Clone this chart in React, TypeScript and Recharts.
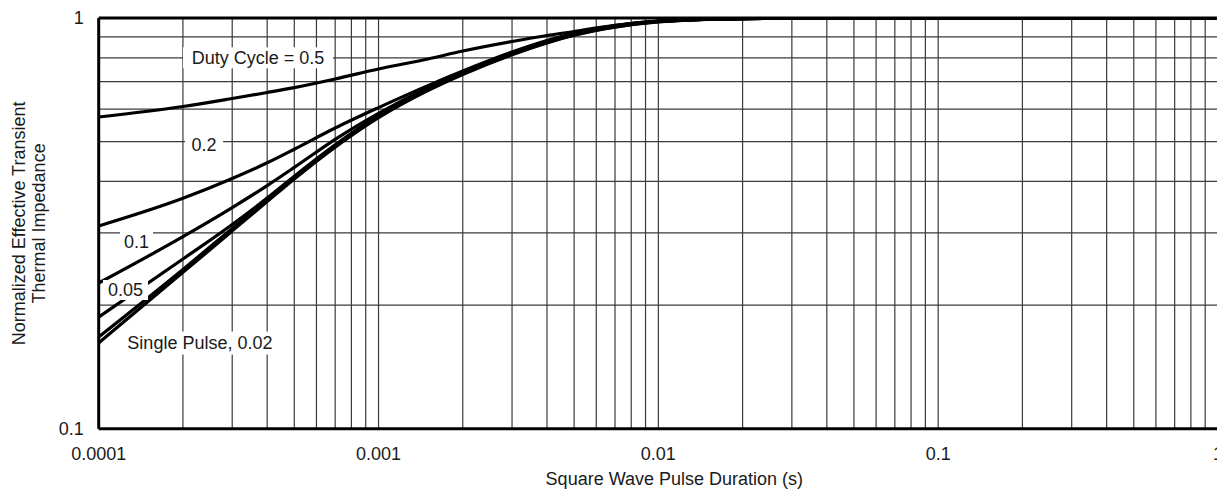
import React from 'react';
import { LineChart, Line, XAxis, YAxis, CartesianGrid, ReferenceLine, ReferenceDot } from 'recharts';

// ---- data ----
const X_VALUES = [0.0001, 0.0002, 0.0003, 0.0004, 0.0005, 0.0007, 0.001, 0.0015, 0.002, 0.003, 0.004, 0.005, 0.007, 0.01, 0.02, 0.05, 0.1, 0.2, 0.5, 1];
const DUTY_05 = [0.5741, 0.6089, 0.6369, 0.6586, 0.677, 0.7104, 0.7514, 0.7947, 0.8311, 0.8766, 0.9066, 0.9271, 0.9599, 0.9822, 0.997, 1, 1, 1, 1, 1];
const DUTY_02 = [0.3117, 0.364, 0.4068, 0.4442, 0.4793, 0.5398, 0.6052, 0.6846, 0.743, 0.8265, 0.8815, 0.9178, 0.9583, 0.9833, 0.997, 1, 1, 1, 1, 1];
const DUTY_01 = [0.2264, 0.2935, 0.3455, 0.3909, 0.4328, 0.5067, 0.5862, 0.677, 0.7388, 0.8237, 0.8791, 0.9158, 0.9567, 0.9822, 0.997, 1, 1, 1, 1, 1];
const DUTY_005 = [0.1871, 0.259, 0.3143, 0.3646, 0.412, 0.4913, 0.5783, 0.6713, 0.7339, 0.8191, 0.8746, 0.9117, 0.9535, 0.9806, 0.997, 1, 1, 1, 1, 1];
const DUTY_002 = [0.1673, 0.2442, 0.3073, 0.3606, 0.4083, 0.488, 0.5748, 0.6683, 0.731, 0.8164, 0.8722, 0.9096, 0.9519, 0.9795, 0.997, 1, 1, 1, 1, 1];
const SINGLE = [0.1618, 0.2404, 0.3032, 0.3573, 0.4056, 0.4848, 0.5719, 0.6657, 0.7286, 0.8136, 0.8697, 0.9076, 0.9503, 0.9784, 0.997, 1, 1, 1, 1, 1];

const SERIES_KEYS = ['d05', 'd02', 'd01', 'd005', 'd002', 'single'];
const SERIES_VALUES = [DUTY_05, DUTY_02, DUTY_01, DUTY_005, DUTY_002, SINGLE];

const X_MAJOR_TICKS = [0.0001, 0.001, 0.01, 0.1, 1];
const X_MAJOR_LABELS = ['0.0001', '0.001', '0.01', '0.1', '1'];
const Y_MAJOR_TICKS = [0.1, 1];
const Y_MAJOR_LABELS = ['0.1', '1'];
const MULTIPLIERS = [1, 2, 3, 4, 5, 6, 7, 8, 9];

const CURVE_LABELS = ['Duty Cycle = 0.5', '0.2', '0.1', '0.05', 'Single Pulse, 0.02'];
const CURVE_LABEL_X = [0.000371, 0.000238, 0.0001365, 0.0001247, 0.00023];
const CURVE_LABEL_Y = [0.8, 0.491, 0.2857, 0.2177, 0.1617];

const X_TITLE = 'Square Wave Pulse Duration (s)';
const Y_TITLE_LINES = ['Normalized Effective Transient', 'Thermal Impedance'];

// ---- derived tables ----
const chartData = X_VALUES.map((x, i) => {
  const row: any = { x };
  SERIES_KEYS.forEach((k, j) => { row[k] = SERIES_VALUES[j][i]; });
  return row;
});

const xTicks = X_MAJOR_TICKS.slice(0, -1)
  .flatMap((d) => MULTIPLIERS.map((m) => +(d * m).toPrecision(6)))
  .concat([X_MAJOR_TICKS[X_MAJOR_TICKS.length - 1]]);
const yTicks = MULTIPLIERS.map((m) => +(Y_MAJOR_TICKS[0] * m).toPrecision(6)).concat([Y_MAJOR_TICKS[1]]);

const FONT = '"Liberation Sans", Arial, Helvetica, sans-serif';
const TEXT_COLOR = '#1a1a1a';

const findMajor = (list: number[], v: number) => list.findIndex((t) => Math.abs(t - v) / t < 1e-6);

const XTick = (props: any) => {
  const { x, y, payload } = props;
  const i = findMajor(X_MAJOR_TICKS, payload.value);
  if (i < 0) return <g />;
  return (
    <text x={x} y={y} dy="0.71em" textAnchor="middle" fontSize={18} fontFamily={FONT} fill={TEXT_COLOR}>
      {X_MAJOR_LABELS[i]}
    </text>
  );
};

const YTick = (props: any) => {
  const { x, y, payload } = props;
  const i = findMajor(Y_MAJOR_TICKS, payload.value);
  if (i < 0) return <g />;
  return (
    <text x={x} y={y} dy="0.355em" textAnchor="end" fontSize={18} fontFamily={FONT} fill={TEXT_COLOR}>
      {Y_MAJOR_LABELS[i]}
    </text>
  );
};

const XTitle = (props: any) => {
  const vb = props.viewBox || {};
  return (
    <text x={vb.x + vb.width / 2 + 16} y={vb.y + 56} textAnchor="middle" fontSize={18} fontFamily={FONT} fill={TEXT_COLOR}>
      {X_TITLE}
    </text>
  );
};

const YTitle = (props: any) => {
  const vb = props.viewBox || {};
  const cy = vb.y + vb.height / 2;
  const xs = [25, 45];
  return (
    <g>
      {Y_TITLE_LINES.map((t, i) => (
        <text key={i} x={xs[i]} y={cy} transform={`rotate(-90, ${xs[i]}, ${cy})`} textAnchor="middle" fontSize={18} fontFamily={FONT} fill={TEXT_COLOR}>
          {t}
        </text>
      ))}
    </g>
  );
};

const BOX_W = [150, 38, 33, 45, 160];
const BOX_H = [21, 21, 21, 20, 23];

const makeLabelShape = (idx: number) => (props: any) => {
  const { cx, cy } = props;
  const w = BOX_W[idx];
  const h = BOX_H[idx];
  return (
    <g>
      <rect x={cx - w / 2} y={cy - h / 2} width={w} height={h} fill="#ffffff" />
      <text x={cx} y={cy} textAnchor="middle" dominantBaseline="central" fontSize={18} fontFamily={FONT} fill={TEXT_COLOR}>
        {CURVE_LABELS[idx]}
      </text>
    </g>
  );
};

export default function App() {
  return (
    <div style={{ position: 'absolute', left: 0, top: 0, width: 1217, height: 493, overflow: 'hidden', background: '#fff' }}>
      <LineChart width={1240} height={493} data={chartData} margin={{ top: 18, right: 22, bottom: 0, left: 0 }}>
        <CartesianGrid stroke="#3a3a3a" strokeWidth={1.2} />
        <XAxis
          dataKey="x"
          type="number"
          scale="log"
          domain={[X_MAJOR_TICKS[0], X_MAJOR_TICKS[X_MAJOR_TICKS.length - 1]]}
          allowDataOverflow
          ticks={xTicks}
          interval={0}
          tick={<XTick />}
          tickLine={false}
          tickSize={0}
          tickMargin={18}
          height={64.2}
          axisLine={{ stroke: '#000', strokeWidth: 3 }}
          label={<XTitle />}
        />
        <YAxis
          type="number"
          scale="log"
          domain={[Y_MAJOR_TICKS[0], Y_MAJOR_TICKS[1]]}
          allowDataOverflow
          ticks={yTicks}
          interval={0}
          tick={<YTick />}
          tickLine={false}
          tickSize={0}
          tickMargin={15}
          width={98.7}
          axisLine={{ stroke: '#000', strokeWidth: 3 }}
          label={<YTitle />}
        />
        <ReferenceLine y={Y_MAJOR_TICKS[1]} stroke="#000" strokeWidth={3} />
        {SERIES_KEYS.map((k) => (
          <Line key={k} dataKey={k} type="monotone" stroke="#000" strokeWidth={3.2} dot={false} isAnimationActive={false} />
        ))}
        {CURVE_LABELS.map((t, i) => (
          <ReferenceDot key={t} x={CURVE_LABEL_X[i]} y={CURVE_LABEL_Y[i]} r={0} shape={makeLabelShape(i)} />
        ))}
      </LineChart>
    </div>
  );
}
